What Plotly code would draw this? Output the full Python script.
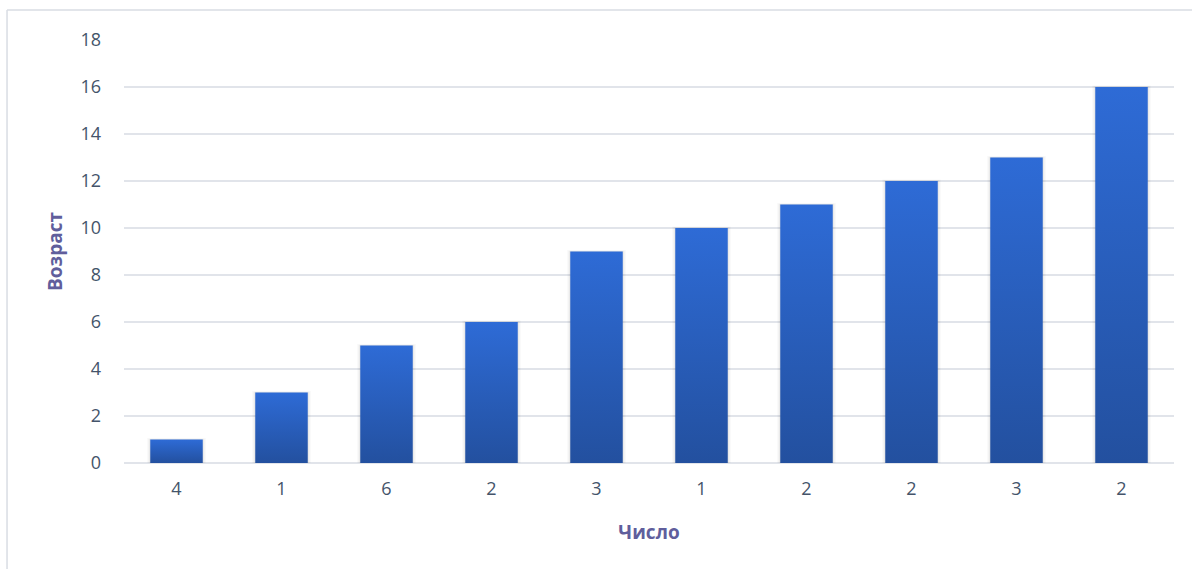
import plotly.graph_objects as go

# Data
categories = ["4", "1", "6", "2", "3", "1", "2", "2", "3", "2"]
ages = [1, 3, 5, 6, 9, 10, 11, 12, 13, 16]

x_title = "Число"
y_title = "Возраст"

BAR_WIDTH = 0.5
TOP_COLOR = "#2E6BD6"
BOTTOM_COLOR = "#23509F"
TEXT_COLOR = "#44546A"
TITLE_COLOR = "#605E9C"
GRID_COLOR = "#E1E4EA"

fig = go.Figure()

positions = list(range(len(categories)))

# soft drop shadow behind each bar
for spread, alpha in [(0.03, 0.025), (0.018, 0.035), (0.008, 0.045)]:
    for pos, val in zip(positions, ages):
        x0, x1 = pos - BAR_WIDTH / 2 - spread, pos + BAR_WIDTH / 2 + spread
        top = val + spread * 2.0
        fig.add_trace(go.Scatter(
            x=[x0, x1, x1, x0, x0], y=[0, 0, top, top, 0],
            mode="lines", fill="toself", line=dict(width=0),
            fillcolor=f"rgba(0,0,0,{alpha})", hoverinfo="skip", showlegend=False,
        ))

# bars with vertical gradient fill
for pos, val, lab in zip(positions, ages, categories):
    x0, x1 = pos - BAR_WIDTH / 2, pos + BAR_WIDTH / 2
    fig.add_trace(go.Scatter(
        x=[x0, x1, x1, x0, x0], y=[0, 0, val, val, 0],
        mode="lines", fill="toself", line=dict(width=0),
        fillgradient=dict(type="vertical",
                          colorscale=[[0, BOTTOM_COLOR], [1, TOP_COLOR]]),
        name=lab, hovertemplate=f"{x_title}: {lab}<br>{y_title}: {val}<extra></extra>",
        showlegend=False,
    ))

fig.update_layout(
    width=1192, height=569,
    margin=dict(l=124, r=18, t=40, b=106),
    paper_bgcolor="white", plot_bgcolor="white",
    font=dict(family="Open Sans, Liberation Sans, sans-serif", size=18, color=TEXT_COLOR),
    showlegend=False,
    xaxis=dict(
        range=[-0.5, len(categories) - 0.5],
        tickvals=positions, ticktext=categories,
        showgrid=False, zeroline=False, showline=False, ticks="",
        ticklabelstandoff=13,
        title=dict(text=f"<b>{x_title}</b>", font=dict(size=19, color=TITLE_COLOR), standoff=26),
        fixedrange=True,
    ),
    yaxis=dict(
        range=[0, 18], dtick=2,
        showgrid=True, gridcolor=GRID_COLOR, gridwidth=1.5,
        zeroline=True, zerolinecolor=GRID_COLOR, zerolinewidth=2,
        showline=False, ticks="", ticklabelstandoff=22,
        title=dict(text=f"<b>{y_title}</b>", font=dict(size=19, color=TITLE_COLOR), standoff=12),
        fixedrange=True,
    ),
    shapes=[
        dict(type="line", xref="paper", yref="paper",
             x0=-0.1114, x1=1.2, y0=1.0709, y1=1.0709,
             line=dict(color="#D9DDE3", width=1.5)),
        dict(type="line", xref="paper", yref="paper",
             x0=-0.1114, x1=-0.1114, y0=-0.5, y1=1.0709,
             line=dict(color="#D9DDE3", width=1.5)),
    ],
)

fig.write_html("out.html")
